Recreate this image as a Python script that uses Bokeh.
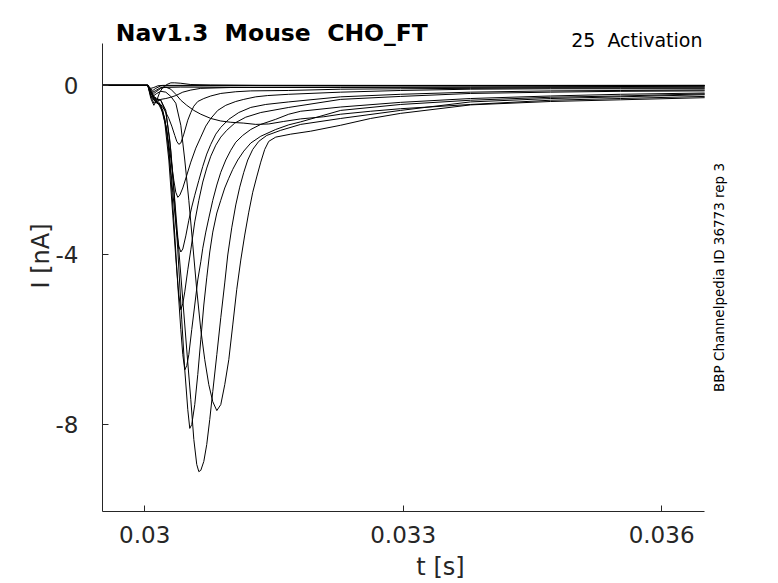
import numpy as np
from bokeh.plotting import figure
from bokeh.models import Range1d, FixedTicker, ColumnDataSource, Label
from bokeh.embed import file_html
from bokeh.resources import INLINE

t_s0 = [0.0295, 0.030036, 0.030071, 0.030106, 0.030152, 0.030210, 0.0365]
i_s0 = [0, 0, -0.07, -0.05, -0.01, 0, 0]

t_s1 = [0.0295, 0.030036, 0.030071, 0.030094, 0.030129, 0.030187, 0.0365]
i_s1 = [0, 0, -0.09, -0.12, -0.07, -0.01, 0]

t_s2 = [0.0295, 0.030036, 0.030071, 0.030094, 0.030129, 0.030187, 0.030419, 0.031231, 0.032275, 0.033783, 0.0365]
i_s2 = [0, 0, -0.12, -0.16, -0.12, -0.05, -0.04, -0.05, -0.05, -0.04, -0.02]

t_s3 = [0.0295, 0.030036, 0.030071, 0.030106, 0.030140, 0.030187, 0.030245, 0.030303, 0.030361, 0.030419,
        0.030488, 0.030570, 0.030651, 0.030767, 0.030883, 0.030999, 0.031150, 0.031289, 0.031440, 0.031614,
        0.031811, 0.032078, 0.032275, 0.032623, 0.032971, 0.033783, 0.034711, 0.035523, 0.0365]
i_s3 = [0, 0, -0.12, -0.19, -0.14, -0.07, -0.04, -0.09, -0.21, -0.35,
        -0.47, -0.59, -0.68, -0.78, -0.84, -0.87, -0.89, -0.92, -0.91, -0.85,
        -0.79, -0.74, -0.68, -0.61, -0.55, -0.45, -0.35, -0.31, -0.26]

t_s4 = [0.0295, 0.030036, 0.030071, 0.030106, 0.030140, 0.030187, 0.030245, 0.030303, 0.030361, 0.030419,
        0.030465, 0.030512, 0.030558, 0.030604, 0.030651, 0.030697, 0.030744, 0.030790, 0.030837, 0.030883,
        0.030929, 0.030976, 0.031022, 0.031068, 0.031115, 0.031161, 0.031208, 0.031254, 0.031300, 0.031347,
        0.031393, 0.031440, 0.031521, 0.031695, 0.031927, 0.032275, 0.032623, 0.032971, 0.033783, 0.034711,
        0.035523, 0.0365]
i_s4 = [0, 0, -0.14, -0.24, -0.19, -0.14, -0.16, -0.26, -0.42, -0.94,
        -1.76, -2.71, -3.76, -4.82, -5.76, -6.47, -7.06, -7.46, -7.67, -7.53,
        -7.06, -6.47, -5.65, -4.82, -4.12, -3.53, -2.99, -2.52, -2.16, -1.81,
        -1.51, -1.32, -1.22, -1.15, -1.08, -0.94, -0.78, -0.66, -0.46, -0.38,
        -0.34, -0.29]

t_s5 = [0.0295, 0.030036, 0.030071, 0.030106, 0.030140, 0.030187, 0.030245, 0.030303, 0.030349, 0.030396,
        0.030442, 0.030488, 0.030535, 0.030570, 0.030604, 0.030628, 0.030651, 0.030686, 0.030720, 0.030755,
        0.030790, 0.030837, 0.030883, 0.030929, 0.030964, 0.031010, 0.031057, 0.031103, 0.031150, 0.031196,
        0.031254, 0.031324, 0.031417, 0.031579, 0.031811, 0.032275, 0.032971, 0.033783, 0.034711, 0.035523,
        0.0365]
i_s5 = [0, 0, -0.16, -0.26, -0.31, -0.35, -0.59, -1.53, -2.71, -3.88,
        -5.06, -6.24, -7.41, -8.35, -8.94, -9.11, -9.08, -8.87, -8.47, -7.88,
        -7.22, -6.35, -5.48, -4.66, -4.00, -3.36, -2.82, -2.40, -2.05, -1.76,
        -1.51, -1.32, -1.18, -1.06, -0.92, -0.78, -0.59, -0.39, -0.31, -0.27,
        -0.22]

t_s6 = [0.0295, 0.030036, 0.030071, 0.030106, 0.030140, 0.030187, 0.030245, 0.030291, 0.030338, 0.030384,
        0.030430, 0.030465, 0.030500, 0.030523, 0.030546, 0.030581, 0.030616, 0.030651, 0.030686, 0.030720,
        0.030755, 0.030790, 0.030837, 0.030883, 0.030929, 0.030976, 0.031022, 0.031080, 0.031150, 0.031231,
        0.031347, 0.031521, 0.031672, 0.031811, 0.032275, 0.032971, 0.033783, 0.034711, 0.035523, 0.0365]
i_s6 = [0, 0, -0.16, -0.28, -0.33, -0.35, -0.64, -1.29, -2.47, -3.88,
        -5.53, -6.71, -7.65, -8.09, -8.00, -7.53, -6.82, -6.00, -5.18, -4.54,
        -3.93, -3.46, -3.01, -2.71, -2.42, -2.19, -1.98, -1.76, -1.55, -1.36,
        -1.20, -1.04, -0.93, -0.86, -0.59, -0.45, -0.35, -0.28, -0.25, -0.20]

t_s7 = [0.0295, 0.030036, 0.030071, 0.030106, 0.030140, 0.030164, 0.030210, 0.030256, 0.030303, 0.030349,
        0.030384, 0.030419, 0.030442, 0.030465, 0.030488, 0.030512, 0.030546, 0.030581, 0.030616, 0.030651,
        0.030674, 0.030709, 0.030744, 0.030790, 0.030837, 0.030883, 0.030941, 0.030999, 0.031057, 0.031138,
        0.031231, 0.031347, 0.031521, 0.031672, 0.031811, 0.032275, 0.032971, 0.033783, 0.034711, 0.035523,
        0.0365]
i_s7 = [0, 0, -0.16, -0.28, -0.35, -0.40, -0.59, -1.06, -2.12, -3.53,
        -4.71, -5.76, -6.35, -6.71, -6.61, -6.35, -5.76, -5.18, -4.59, -4.16,
        -3.84, -3.46, -3.13, -2.71, -2.35, -2.05, -1.76, -1.53, -1.34, -1.18,
        -1.04, -0.92, -0.80, -0.68, -0.61, -0.51, -0.40, -0.31, -0.25, -0.21,
        -0.18]

t_s8 = [0.0295, 0.030036, 0.030071, 0.030106, 0.030140, 0.030187, 0.030233, 0.030280, 0.030326, 0.030361,
        0.030396, 0.030419, 0.030442, 0.030465, 0.030500, 0.030535, 0.030581, 0.030628, 0.030674, 0.030720,
        0.030767, 0.030825, 0.030883, 0.030952, 0.031045, 0.031173, 0.031347, 0.031672, 0.032275, 0.032971,
        0.033783, 0.034711, 0.035523, 0.0365]
i_s8 = [0, 0, -0.16, -0.28, -0.38, -0.49, -0.87, -1.76, -3.06, -4.07,
        -4.94, -5.29, -5.15, -4.87, -4.35, -3.88, -3.22, -2.71, -2.28, -1.95,
        -1.67, -1.41, -1.22, -1.06, -0.89, -0.75, -0.64, -0.52, -0.33, -0.26,
        -0.19, -0.16, -0.14, -0.13]

t_s9 = [0.0295, 0.030036, 0.030071, 0.030106, 0.030140, 0.030187, 0.030233, 0.030280, 0.030326, 0.030372,
        0.030396, 0.030419, 0.030442, 0.030477, 0.030512, 0.030546, 0.030581, 0.030628, 0.030674, 0.030720,
        0.030767, 0.030825, 0.030883, 0.030976, 0.031092, 0.031231, 0.031405, 0.031672, 0.032275, 0.032971,
        0.033783, 0.034711, 0.035523, 0.0365]
i_s9 = [0, 0, -0.16, -0.31, -0.40, -0.49, -0.78, -1.48, -2.52, -3.48,
        -3.79, -3.93, -3.86, -3.55, -3.18, -2.87, -2.59, -2.24, -1.91, -1.62,
        -1.39, -1.15, -0.99, -0.80, -0.64, -0.52, -0.45, -0.39, -0.27, -0.21,
        -0.16, -0.13, -0.12, -0.11]

t_s10 = [0.0295, 0.030036, 0.030071, 0.030106, 0.030129, 0.030164, 0.030210, 0.030256, 0.030303, 0.030338,
         0.030361, 0.030384, 0.030407, 0.030442, 0.030488, 0.030535, 0.030593, 0.030651, 0.030709, 0.030767,
         0.030848, 0.030941, 0.031057, 0.031150, 0.031289, 0.031428, 0.031672, 0.032275, 0.032971, 0.033783,
         0.034711, 0.035523, 0.0365]
i_s10 = [0, 0, -0.19, -0.33, -0.40, -0.45, -0.64, -1.06, -1.72, -2.24,
         -2.52, -2.64, -2.59, -2.42, -2.12, -1.81, -1.48, -1.22, -0.96, -0.78,
         -0.59, -0.47, -0.38, -0.33, -0.27, -0.24, -0.21, -0.16, -0.12, -0.09,
         -0.08, -0.08, -0.08]

t_s11 = [0.0295, 0.030036, 0.030071, 0.030106, 0.030140, 0.030187, 0.030233, 0.030280, 0.030314, 0.030349,
         0.030372, 0.030396, 0.030419, 0.030454, 0.030500, 0.030535, 0.030570, 0.030616, 0.030686, 0.030767,
         0.030883, 0.031057, 0.031231, 0.031672, 0.032275, 0.032971, 0.033783, 0.034711, 0.035523, 0.0365]
i_s11 = [0, 0, -0.24, -0.35, -0.40, -0.45, -0.59, -0.78, -0.96, -1.18,
         -1.32, -1.39, -1.36, -1.15, -0.82, -0.64, -0.49, -0.38, -0.31, -0.25,
         -0.19, -0.15, -0.13, -0.12, -0.09, -0.08, -0.07, -0.06, -0.06, -0.06]

t_s12 = [0.0295, 0.030036, 0.030071, 0.030106, 0.030140, 0.030187, 0.030245, 0.030303, 0.030361, 0.030442,
         0.030535, 0.030651, 0.030999, 0.032275, 0.033783, 0.0365]
i_s12 = [0, 0, -0.26, -0.42, -0.38, -0.33, -0.31, -0.28, -0.24, -0.16,
         -0.11, -0.07, -0.05, -0.04, -0.04, -0.04]

t_s13 = [0.0295, 0.030036, 0.030071, 0.030106, 0.030140, 0.030175, 0.030210, 0.030256, 0.030303, 0.030349,
         0.030419, 0.030535, 0.030767, 0.031347, 0.0365]
i_s13 = [0, 0, -0.31, -0.47, -0.35, -0.16, -0.05, 0.02, 0.06, 0.06,
         0.05, 0.02, 0.01, 0, -0.01]

x_ticks = [0.030, 0.033, 0.036]
x_tick_labels = ["0.03", "0.033", "0.036"]
y_ticks = [0, -4, -8]
y_tick_labels = ["0", "-4", "-8"]

title_text = "Nav1.3 \u00a0Mouse \u00a0CHO_FT"
protocol_text = "25 \u00a0Activation"
side_text = "BBP Channelpedia ID 36773 rep 3"

sweeps_t = [t_s0, t_s1, t_s2, t_s3, t_s4, t_s5, t_s6, t_s7, t_s8, t_s9, t_s10, t_s11, t_s12, t_s13]
sweeps_i = [i_s0, i_s1, i_s2, i_s3, i_s4, i_s5, i_s6, i_s7, i_s8, i_s9, i_s10, i_s11, i_s12, i_s13]

FONT = "DejaVu Sans"
AX = "#262626"

# axis limits (the frame is extended above and to the right to hold the annotations)
X0, X1 = 0.02951, 0.0365
Y0, Y1 = -10.05, 0.99
X_EXT = 0.037357
Y_EXT = 2.002

p = figure(width=778, height=583,
           x_range=Range1d(X0, X_EXT), y_range=Range1d(Y0, Y_EXT),
           output_backend="svg", toolbar_location=None,
           min_border_left=102, min_border_right=0, min_border_top=0, min_border_bottom=71)
p.background_fill_color = "white"
p.border_fill_color = "white"
p.outline_line_color = None
p.grid.visible = False

src = ColumnDataSource(data=dict(xs=sweeps_t, ys=sweeps_i))
p.multi_line(xs="xs", ys="ys", source=src, line_color="black", line_width=1.0)

for ax in (p.xaxis[0], p.yaxis[0]):
    ax.axis_line_color = AX
    ax.major_tick_line_color = AX
    ax.major_tick_in = 6
    ax.major_tick_out = 0
    ax.minor_tick_line_color = None
    ax.major_label_text_font = FONT
    ax.major_label_text_font_size = "23px"
    ax.major_label_text_color = AX
    ax.axis_label_text_font = FONT
    ax.axis_label_text_font_size = "24px"
    ax.axis_label_text_font_style = "normal"
    ax.axis_label_text_color = AX

p.xaxis.bounds = (X0, X1)
p.xaxis.ticker = FixedTicker(ticks=x_ticks)
p.xaxis.major_label_overrides = dict(zip(x_ticks, x_tick_labels))
p.xaxis.axis_label = "t [s]"
p.xaxis.major_label_standoff = 14
p.xaxis.axis_label_standoff = 7

p.yaxis.bounds = (Y0, Y1)
p.yaxis.ticker = FixedTicker(ticks=y_ticks)
p.yaxis.major_label_overrides = dict(zip(y_ticks, y_tick_labels))
p.yaxis.axis_label = "I [nA]"
p.yaxis.major_label_standoff = 24
p.yaxis.axis_label_standoff = -2

p.add_layout(Label(x=0.029664, y=1.231, text=title_text,
                   text_font=FONT, text_font_size="23.5px", text_font_style="bold",
                   text_color="black", text_align="left", text_baseline="alphabetic"))
p.add_layout(Label(x=0.036475, y=1.077, text=protocol_text,
                   text_font=FONT, text_font_size="19px", text_color="black",
                   text_align="right", text_baseline="alphabetic"))
p.add_layout(Label(x=0.036661, y=-4.53, text=side_text,
                   angle=np.pi / 2, text_font=FONT, text_font_size="13.5px", text_color="black",
                   text_align="center", text_baseline="middle"))

open("out.html", "w").write(file_html(p, INLINE))
